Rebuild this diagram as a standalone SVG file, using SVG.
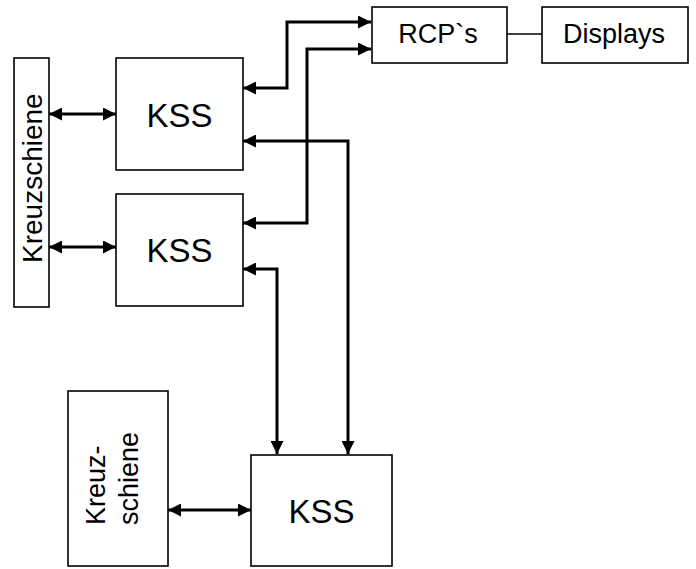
<svg xmlns="http://www.w3.org/2000/svg" width="696" height="569" viewBox="0 0 696 569">
<defs>
<marker id="ah" markerUnits="userSpaceOnUse" markerWidth="13" markerHeight="13" refX="12" refY="6" orient="auto-start-reverse" viewBox="0 0 12 12">
<path d="M0,0 L12,6 L0,12 z" fill="#000"/>
</marker>
<style>
.box{fill:#fff;stroke:#000;stroke-width:1.6}
.lbl{font-family:"Liberation Sans",Arial,sans-serif;fill:#000}
.con{fill:none;stroke:#000;stroke-width:3;marker-start:url(#ah);marker-end:url(#ah)}
.plain{fill:none;stroke:#000;stroke-width:1.6}
</style>
</defs>
<rect width="696" height="569" fill="#fff"/>
<g id="kreuzschiene1">
<rect class="box" x="14" y="58" width="35" height="249"/>
<text class="lbl" font-size="28" transform="translate(42,263) rotate(-90)">Kreuzschiene</text>
</g>
<g id="kss1">
<rect class="box" x="116" y="58" width="127" height="112"/>
<text class="lbl" font-size="33" x="179.5" y="127" text-anchor="middle">KSS</text>
</g>
<g id="kss2">
<rect class="box" x="116" y="194" width="127" height="112"/>
<text class="lbl" font-size="33" x="179.5" y="262" text-anchor="middle">KSS</text>
</g>
<g id="rcps">
<rect class="box" x="372" y="7" width="135" height="56"/>
<text class="lbl" font-size="27" x="438" y="43" text-anchor="middle">RCP`s</text>
</g>
<g id="displays">
<rect class="box" x="542" y="7" width="146" height="56"/>
<text class="lbl" font-size="27" x="614" y="43" text-anchor="middle">Displays</text>
</g>
<g id="kreuzschiene2">
<rect class="box" x="68" y="391" width="100" height="175"/>
<text class="lbl" font-size="27" transform="translate(105,525) rotate(-90)">Kreuz-</text>
<text class="lbl" font-size="27" transform="translate(138,525) rotate(-90)">schiene</text>
</g>
<g id="kss3">
<rect class="box" x="251" y="455" width="141" height="111"/>
<text class="lbl" font-size="33" x="321.5" y="523" text-anchor="middle">KSS</text>
</g>
<g id="connectors">
<path class="con" d="M243,88 H287 V22 H371"/>
<path class="con" d="M243,223 H307 V49 H371"/>
<path class="con" d="M243,141 H348 V454"/>
<path class="con" d="M243,269 H277 V454"/>
<path class="con" d="M49,114 H116"/>
<path class="con" d="M49,247 H116"/>
<path class="con" d="M168,510 H251"/>
<path class="plain" d="M507,34 H542"/>
</g>
</svg>
